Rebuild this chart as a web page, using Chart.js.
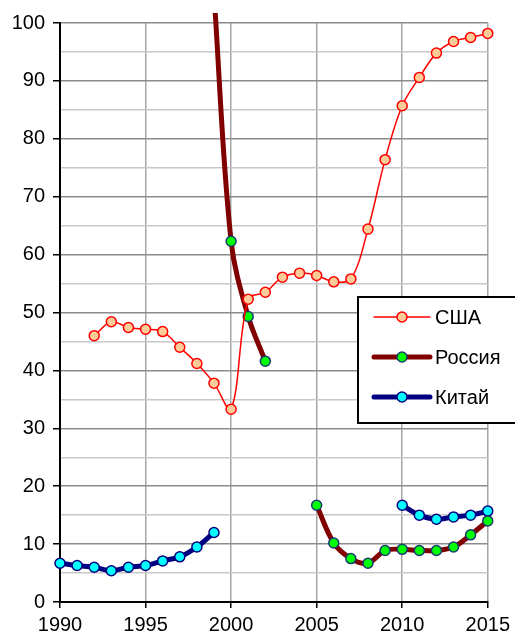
<!DOCTYPE html>
<html>
<head>
<meta charset="utf-8">
<script src="https://cdn.jsdelivr.net/npm/chart.js@4"></script>
<style>
  html, body { margin: 0; padding: 0; background: #fff; }
  #wrap { width: 515px; height: 637px; }
</style>
</head>
<body>
<div id="wrap"><canvas id="myChart" width="515" height="637"></canvas></div>
<script>
var years = [1990, 1991, 1992, 1993, 1994, 1995, 1996, 1997, 1998, 1999, 2000, 2001, 2002,
             2003, 2004, 2005, 2006, 2007, 2008, 2009, 2010, 2011, 2012, 2013, 2014, 2015];
var usa = [null, null, 46.0, 48.4, 47.4, 47.1, 46.7, 44.0, 41.2, 37.8, 33.3, 52.3, 53.5,
           56.1, 56.8, 56.4, 55.3, 55.8, 64.4, 76.4, 85.7, 90.6, 94.8, 96.8, 97.5, 98.2];
var russia = [null, null, null, null, null, null, null, null, null, 105, 62.3, 49.3, 41.6,
              null, null, 16.7, 10.2, 7.5, 6.7, 8.9, 9.1, 8.9, 8.9, 9.5, 11.6, 14.0];
var china = [6.7, 6.3, 6.0, 5.4, 6.0, 6.3, 7.1, 7.8, 9.5, 12.0, null, null, null,
             null, null, null, null, null, null, null, 16.7, 15.0, 14.3, 14.7, 15.0, 15.7];
var seriesNames = ['США', 'Россия', 'Китай'];

function pts(vals) {
    return years.map(function (yr, i) { return { x: yr, y: vals[i] }; });
}

var FONT = 'Liberation Sans, Arial, sans-serif';

// legend drawn inside the plot, Excel style
var boxLegend = {
    id: 'boxLegend',
    afterDraw: function (chart) {
        var c = chart.ctx;
        c.save();
        c.fillStyle = '#fff';
        c.fillRect(358, 297, 160, 126);
        c.strokeStyle = '#000';
        c.lineWidth = 2;
        c.strokeRect(358, 297, 160, 126);
        var rows = [317, 357, 397];
        chart.data.datasets.forEach(function (ds, i) {
            var y = rows[i];
            c.strokeStyle = ds.borderColor;
            c.lineWidth = ds.borderWidth;
            c.lineCap = 'round';
            c.beginPath();
            c.moveTo(374, y);
            c.lineTo(430, y);
            c.stroke();
            c.beginPath();
            c.arc(402, y, ds.pointRadius, 0, Math.PI * 2);
            c.fillStyle = ds.pointBackgroundColor;
            c.fill();
            c.lineWidth = ds.pointBorderWidth;
            c.strokeStyle = ds.pointBorderColor;
            c.stroke();
            c.fillStyle = '#000';
            c.font = '20px ' + FONT;
            c.textBaseline = 'middle';
            c.fillText(ds.label, 435, y + 1);
        });
        c.restore();
    }
};

var ctx = document.getElementById('myChart').getContext('2d');
var myChart = new Chart(ctx, {
    type: 'line',
    data: {
        datasets: [{
            label: seriesNames[0],
            data: pts(usa),
            borderColor: '#ff0000',
            borderWidth: 1.5,
            pointRadius: 5,
            pointBackgroundColor: '#ffcc99',
            pointBorderColor: '#ff0000',
            pointBorderWidth: 1.5,
            tension: 0.35,
            clip: 8
        }, {
            label: seriesNames[1],
            data: pts(russia),
            borderColor: '#800000',
            borderWidth: 5,
            pointRadius: 5,
            pointBackgroundColor: '#00ff00',
            pointBorderColor: '#1a3a70',
            pointBorderWidth: 1.5,
            tension: 0.35,
            clip: { left: 8, top: 10, right: 8, bottom: 8 }
        }, {
            label: seriesNames[2],
            data: pts(china),
            borderColor: '#000080',
            borderWidth: 5,
            pointRadius: 5,
            pointBackgroundColor: '#00ffff',
            pointBorderColor: '#000080',
            pointBorderWidth: 1.5,
            tension: 0.35,
            clip: 8
        }]
    },
    options: {
        responsive: false,
        animation: false,
        spanGaps: false,
        layout: {
            padding: { left: 0, right: 25, top: 23, bottom: 0 }
        },
        plugins: {
            legend: { display: false },
            tooltip: { enabled: false }
        },
        scales: {
            x: {
                type: 'linear',
                min: 1990,
                max: 2015,
                afterFit: function (s) { s.height = 35; },
                ticks: {
                    stepSize: 5,
                    color: '#000',
                    font: { family: FONT, size: 20 },
                    padding: 5,
                    maxRotation: 0,
                    callback: function (v) { return String(v); }
                },
                grid: {
                    color: '#a6a6a6',
                    lineWidth: 1.5,
                    tickColor: '#000',
                    tickLength: 6
                },
                border: { color: '#000', width: 2 }
            },
            y: {
                min: 0,
                max: 100,
                afterFit: function (s) { s.width = 60; },
                ticks: {
                    stepSize: 5,
                    color: '#000',
                    font: { family: FONT, size: 20 },
                    padding: 8,
                    callback: function (v) { return v % 10 === 0 ? String(v) : ''; }
                },
                grid: {
                    color: function (c) { return c.tick && c.tick.value % 10 === 0 ? '#8c8c8c' : '#c8c8c8'; },
                    lineWidth: 1.5,
                    tickColor: function (c) { return c.tick && c.tick.value % 10 === 0 ? '#000' : 'rgba(0,0,0,0)'; },
                    tickLength: 7
                },
                border: { color: '#000', width: 2 }
            }
        }
    },
    plugins: [boxLegend]
});
</script>
</body>
</html>
